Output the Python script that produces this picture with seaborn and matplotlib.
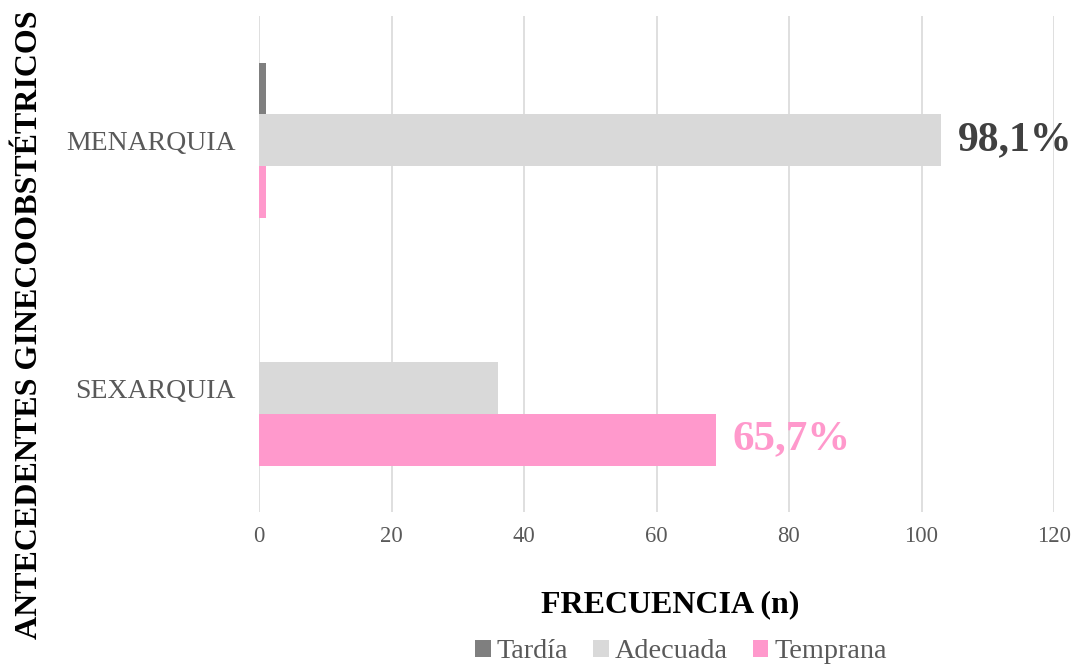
import matplotlib
matplotlib.use("Agg")
import matplotlib.pyplot as plt
import seaborn as sns
import pandas as pd
from matplotlib.patches import Patch

categories = ["MENARQUIA", "SEXARQUIA"]
series = ["Tardía", "Adecuada", "Temprana"]
tardia = [1, 0]
adecuada = [103, 36]
temprana = [1, 69]
colors = ["#7f7f7f", "#d9d9d9", "#ff99cc"]
labels_text = ["98,1%", "65,7%"]
xticks = [0, 20, 40, 60, 80, 100, 120]

rows = []
for i, c in enumerate(categories):
    for s, vals in zip(series, [tardia, adecuada, temprana]):
        rows.append({"cat": c, "serie": s, "n": vals[i]})
df = pd.DataFrame(rows)

sns.set_theme(style="white")
plt.rcParams["font.family"] = ["Liberation Serif", "DejaVu Serif"]

fig = plt.figure(figsize=(10.76, 6.65), dpi=100)
ax = fig.add_axes([259/1076, 1-512/665, (1054-259)/1076, (512-16)/665])

sns.barplot(data=df, y="cat", x="n", hue="serie", order=categories,
            hue_order=series, palette=colors, orient="h", width=0.625,
            saturation=1, ax=ax, legend=False, linewidth=0)

ax.set_xlim(0, 120)
ax.set_ylim(1.5, -0.5)
ax.set_xticks(xticks)
ax.set_xticklabels([str(t) for t in xticks], fontsize=16.3, color="#595959")
ax.tick_params(axis="y", labelsize=20, labelcolor="#595959", length=0, pad=17)
ax.tick_params(axis="x", length=0, pad=10)
ax.grid(axis="x", color="#d9d9d9", linewidth=1.2)
ax.set_axisbelow(True)
for sp in ax.spines.values():
    sp.set_visible(False)

ax.set_xlabel("FRECUENCIA (n)", fontsize=23, fontweight="bold", color="black", labelpad=31)
ax.xaxis.label.set_x((670 - 259) / 795)
ax.set_ylabel("")
fig.text(30/1076, 1-325/665, "ANTECEDENTES GINECOOBSTÉTRICOS", rotation=90,
         fontsize=23, fontweight="bold", ha="center", va="center", color="black")

# annotations
ax.text(adecuada[0] + 2.5, 0.0, labels_text[0], fontsize=30, fontweight="bold",
        color="#404040", va="center", ha="left")
ax.text(temprana[1] + 2.5, 1 + 0.625/3, labels_text[1], fontsize=31, fontweight="bold",
        color="#ff99cc", va="center", ha="left")

handles = [Patch(facecolor=c, edgecolor="none", label=s) for s, c in zip(series, colors)]
leg = fig.legend(handles=handles, loc="center", bbox_to_anchor=(681/1076, 1-652/665),
                 ncol=3, frameon=False, fontsize=20.3, handlelength=0.55, handleheight=0.55,
                 handletextpad=0.2, columnspacing=0.9)
for t in leg.get_texts():
    t.set_color("#595959")

fig.savefig("out.png", dpi=100)
